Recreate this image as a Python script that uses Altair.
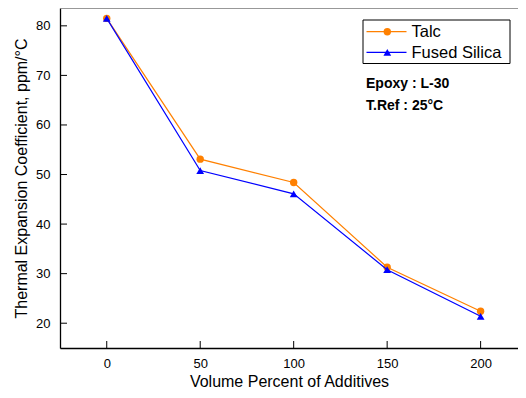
import altair as alt
import pandas as pd

volume = [0, 50, 100, 150, 200]
talc = [81.5, 53.1, 48.4, 31.3, 22.4]
fused_silica = [81.5, 50.8, 46.1, 30.8, 21.4]
series_names = ["Talc", "Fused Silica"]
series_colors = ["#FF8000", "#0000FF"]
series_shapes = ["circle", "triangle-up"]
y_ticks = [20, 30, 40, 50, 60, 70, 80]
x_ticks = [0, 50, 100, 150, 200]
notes = ["Epoxy : L-30", "T.Ref : 25°C"]

FONT = "Liberation Sans"
W, H = 458, 340

rows = []
for name, vals in zip(series_names, [talc, fused_silica]):
    for xv, yv in zip(volume, vals):
        rows.append({"series": name, "volume": xv, "tec": yv})
df = pd.DataFrame(rows)

xs = alt.Scale(domain=[-25, 220], nice=False, zero=False)
ys = alt.Scale(domain=[15, 83.6], nice=False, zero=False)

x_axis = alt.Axis(values=x_ticks, title="Volume Percent of Additives", ticks=False, tickSize=0,
                  labelPadding=9, grid=False, domainColor="black", domainWidth=1.3,
                  labelFont=FONT, labelFontSize=13, labelColor="black",
                  titleFont=FONT, titleFontSize=16, titleFontWeight="normal", titleColor="black",
                  titlePadding=3)
y_axis = alt.Axis(values=y_ticks, title="Thermal Expansion Coefficient, ppm/°C", ticks=False, tickSize=0,
                  labelPadding=10, grid=False, domainColor="black", domainWidth=1.3,
                  labelFont=FONT, labelFontSize=13, labelColor="black",
                  titleFont=FONT, titleFontSize=16, titleFontWeight="normal", titleColor="black",
                  titlePadding=6)

layers = []
for name, color, shape in zip(series_names, series_colors, series_shapes):
    sub = df[df.series == name]
    base = alt.Chart(sub)
    layers.append(base.mark_line(color=color, strokeWidth=1.2).encode(
        x=alt.X("volume:Q", scale=xs, axis=x_axis),
        y=alt.Y("tec:Q", scale=ys, axis=y_axis)))
    layers.append(base.mark_point(shape=shape, filled=True, color=color, opacity=1,
                                  size=55 if shape == "circle" else 60).encode(
        x=alt.X("volume:Q", scale=xs), y=alt.Y("tec:Q", scale=ys)))

# inward ticks
yt = alt.Chart(pd.DataFrame({"v": y_ticks})).mark_rule(color="black", strokeWidth=1).encode(
    y=alt.Y("v:Q", scale=ys), x=alt.value(0), x2=alt.value(7))
xt = alt.Chart(pd.DataFrame({"v": x_ticks})).mark_rule(color="black", strokeWidth=1).encode(
    x=alt.X("v:Q", scale=xs), y=alt.value(H), y2=alt.value(H - 7))
top_border = alt.Chart(pd.DataFrame({"a": [0]})).mark_rule(color="#808080", strokeWidth=1.3).encode(
    x=alt.value(0), x2=alt.value(W), y=alt.value(0))

# legend
one = pd.DataFrame({"a": [0]})
legend_box = alt.Chart(one).mark_rect(fill="white", stroke="black", strokeWidth=1).encode(
    x=alt.value(303), x2=alt.value(450), y=alt.value(12), y2=alt.value(55.5))
legend_layers = [legend_box]
for i, (name, color, shape) in enumerate(zip(series_names, series_colors, series_shapes)):
    yy = 23.7 + i * 20.6
    legend_layers.append(alt.Chart(one).mark_rule(color=color, strokeWidth=1.2).encode(
        x=alt.value(306.5), x2=alt.value(346.5), y=alt.value(yy)))
    legend_layers.append(alt.Chart(one).mark_point(shape=shape, filled=True, color=color, opacity=1,
                                                   size=55 if shape == "circle" else 60).encode(
        x=alt.value(327.3), y=alt.value(yy)))
    legend_layers.append(alt.Chart(one).mark_text(text=name, font=FONT, fontSize=16.5, align="left",
                                                  baseline="middle", color="black").encode(
        x=alt.value(351.5), y=alt.value(yy + 0.5)))

note_layers = []
for i, t in enumerate(notes):
    note_layers.append(alt.Chart(one).mark_text(text=t, font=FONT, fontSize=14, fontWeight="bold",
                                                align="left", baseline="alphabetic", color="black").encode(
        x=alt.value(306), y=alt.value(80.3 + i * 22)))

chart = alt.layer(top_border, yt, xt, *layers, *legend_layers, *note_layers).properties(
    width=W, height=H,
    autosize=alt.AutoSizeParams(type="none"),
    padding={"left": 52, "top": 0, "right": 0, "bottom": 42},
).configure_view(stroke=None).configure(background="white")

chart.save("out.html", embed_options={"renderer": "svg", "actions": False})
